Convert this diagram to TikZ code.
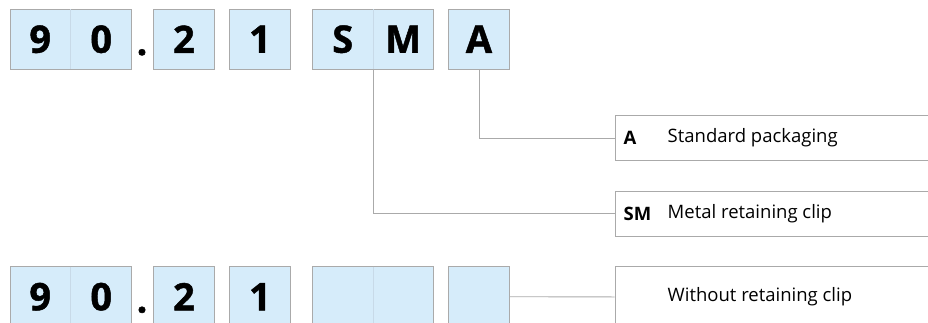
\documentclass[tikz,border=0pt]{standalone}
\usepackage{fontspec}
\setmainfont{Open Sans}
\newfontfamily\codefont[BoldFeatures={FakeBold=1.2}]{Open Sans}
\definecolor{boxfill}{RGB}{214,236,250}
\definecolor{rulegray}{RGB}{170,170,170}
\definecolor{splitgray}{RGB}{200,218,232}
\begin{document}
\begin{tikzpicture}[x=1pt, y=-1pt,
  codebox/.style={draw=rulegray, fill=boxfill, line width=0.9pt, anchor=north west, inner sep=0pt, minimum height=60.5pt},
  digit/.style={font=\fontsize{38}{38}\codefont\bfseries, inner sep=0pt},
  panel/.style={draw=rulegray, line width=0.9pt, anchor=north west, inner sep=0pt, minimum width=330pt},
  keytext/.style={font=\fontsize{18.5}{18.5}\selectfont\bfseries, anchor=west, inner sep=0pt},
  desc/.style={font=\fontsize{18.5}{18.5}\selectfont, anchor=west, inner sep=0pt},
  link/.style={draw=rulegray, line width=0.9pt}]
\clip (0,0) rectangle (928,322);
\useasboundingbox (0,0) rectangle (928,322);

% top row: 90.21SMA
\node[codebox, minimum width=121.5pt] (t90) at (9.5,8.5) {};
\draw[splitgray, line width=0.5pt] ([yshift=-0.5pt]t90.north) -- ([yshift=0.5pt]t90.south);
\node[digit] at ([xshift=-30.5pt]t90.center) {9};
\node[digit] at ([xshift=30.5pt]t90.center) {0};
\node[digit, anchor=base] (tdot) at (142,55) {.};
\node[codebox, minimum width=61pt] (t2) at (153,8.5) {};
\node[digit] at (t2.center) {2};
\node[codebox, minimum width=61pt] (t1) at (229,8.5) {};
\node[digit] at (t1.center) {1};
\node[codebox, minimum width=121pt] (tSM) at (312,8.5) {};
\draw[splitgray, line width=0.5pt] ([yshift=-0.5pt]tSM.north) -- ([yshift=0.5pt]tSM.south);
\node[digit] at ([xshift=-30.25pt]tSM.center) {S};
\node[digit] at ([xshift=30.25pt]tSM.center) {M};
\node[codebox, minimum width=61pt] (tA) at (448,8.5) {};
\node[digit] at (tA.center) {A};

% option panels
\node[panel, minimum height=45pt] (pA) at (614.5,115) {};
\node[keytext] at ([xshift=9pt]pA.west) {A};
\node[desc] at ([xshift=53pt]pA.west) {Standard packaging};
\node[panel, minimum height=44.5pt] (pSM) at (614.5,191) {};
\node[keytext] at ([xshift=9pt]pSM.west) {SM};
\node[desc] at ([xshift=53pt]pSM.west) {Metal retaining clip};

\draw[link] (tA.south) |- (pA.west);
\draw[link] (tSM.south) |- (pSM.west);

% bottom row: 90.21 without clip
\node[codebox, minimum width=121.5pt] (b90) at (9.5,266) {};
\draw[splitgray, line width=0.5pt] ([yshift=-0.5pt]b90.north) -- ([yshift=0.5pt]b90.south);
\node[digit] at ([xshift=-30.5pt]b90.center) {9};
\node[digit] at ([xshift=30.5pt]b90.center) {0};
\node[digit, anchor=base] (bdot) at (142,312.5) {.};
\node[codebox, minimum width=61pt] (b2) at (153,266) {};
\node[digit] at (b2.center) {2};
\node[codebox, minimum width=61pt] (b1) at (229,266) {};
\node[digit] at (b1.center) {1};
\node[codebox, minimum width=121pt] (bSM) at (312,266) {};
\draw[splitgray, line width=0.5pt] ([yshift=-0.5pt]bSM.north) -- ([yshift=0.5pt]bSM.south);
\node[codebox, minimum width=61pt] (bA) at (448,266) {};
\node[panel, minimum height=61pt] (pW) at (614.5,266) {};
\node[desc] at ([xshift=53pt]pW.west) {Without retaining clip};

\draw[link] (bA.east) -- (pW.west);
\end{tikzpicture}
\end{document}
